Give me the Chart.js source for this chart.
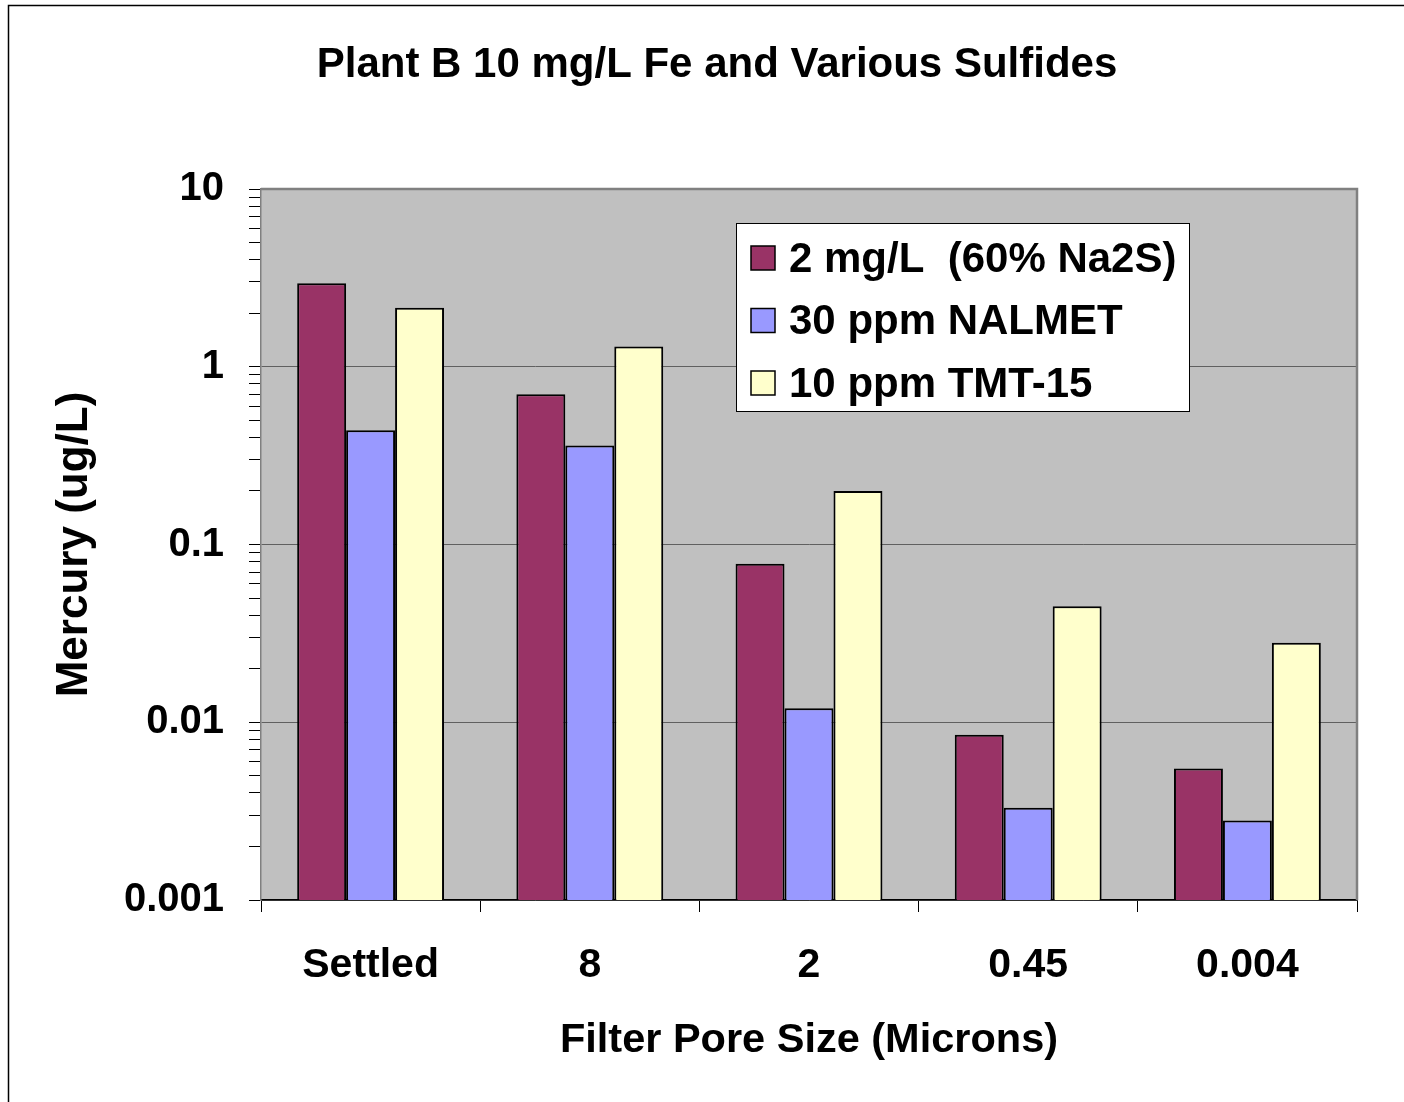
<!DOCTYPE html>
<html>
<head>
<meta charset="utf-8">
<script src="https://cdn.jsdelivr.net/npm/chart.js@4/dist/chart.umd.min.js"></script>
<style>
  html, body { margin: 0; padding: 0; background: #fff; }
  #wrap { width: 1404px; height: 1102px; }
</style>
</head>
<body>
<div id="wrap"><canvas id="myChart" width="1404" height="1102"></canvas></div>
<script>
// values (log axis)
const poreSizes = ["Settled", "8", "2", "0.45", "0.004"];
const na2sValues = [2.95, 0.70, 0.078, 0.0085, 0.0055];
const nalmetValues = [0.44, 0.36, 0.012, 0.0033, 0.0028];
const tmtValues = [2.15, 1.3, 0.20, 0.045, 0.028];
const seriesNames = ["2 mg/L  (60% Na2S)", "30 ppm NALMET", "10 ppm TMT-15"];
const seriesColors = ["#993366", "#9999FF", "#FFFFCC"];
const yDecades = [0.001, 0.01, 0.1, 1, 10];
const chartTitle = "Plant B 10 mg/L Fe and Various Sulfides";

const FONT = "'Liberation Sans', Arial, sans-serif";

function isDecade(v) {
  return yDecades.some((d) => Math.abs(v - d) / d < 1e-6);
}

// gray plot area, outer frame and title (title is centred on the page, not the chart box)
const plotBackground = {
  id: "plotBackground",
  beforeDraw(chart) {
    const { ctx, chartArea: a } = chart;
    ctx.save();
    ctx.strokeStyle = "#000";
    ctx.lineWidth = 1.5;
    ctx.beginPath();
    ctx.moveTo(8.5, 1102);
    ctx.lineTo(8.5, 5.5);
    ctx.lineTo(1404, 5.5);
    ctx.stroke();
    ctx.fillStyle = "#C0C0C0";
    ctx.fillRect(a.left, a.top, a.right - a.left, a.bottom - a.top);
    ctx.fillStyle = "#000";
    ctx.font = "bold 42px " + FONT;
    ctx.textAlign = "center";
    ctx.textBaseline = "middle";
    ctx.fillText(chartTitle, 717, 65);
    ctx.restore();
  },
  afterDatasetsDraw(chart) {
    const { ctx, chartArea: a } = chart;
    ctx.save();
    ctx.strokeStyle = "#808080";
    ctx.lineWidth = 2.5;
    ctx.beginPath();
    ctx.moveTo(a.left, a.top);
    ctx.lineTo(a.right, a.top);
    ctx.lineTo(a.right, a.bottom);
    ctx.stroke();
    ctx.restore();
  },
};

// legend box inside the plot, upper right
const boxLegend = {
  id: "boxLegend",
  afterDraw(chart) {
    const { ctx } = chart;
    const x = 736, y = 223, w = 453, h = 188;
    ctx.save();
    ctx.fillStyle = "#fff";
    ctx.fillRect(x, y, w, h);
    ctx.strokeStyle = "#000";
    ctx.lineWidth = 1;
    ctx.strokeRect(x + 0.5, y + 0.5, w, h);
    ctx.font = "bold 42px " + FONT;
    ctx.textBaseline = "middle";
    chart.data.datasets.forEach((ds, i) => {
      const cy = 258 + i * 62.5;
      ctx.fillStyle = ds.backgroundColor;
      ctx.fillRect(751, cy - 12, 24, 24);
      ctx.lineWidth = 1.5;
      ctx.strokeRect(751, cy - 12, 24, 24);
      ctx.fillStyle = "#000";
      ctx.fillText(ds.label, 789, cy + 2);
    });
    ctx.restore();
  },
};

const chartInstance = new Chart(document.getElementById("myChart"), {
  type: "bar",
  data: {
    labels: poreSizes,
    datasets: [
      { label: seriesNames[0], data: na2sValues, backgroundColor: seriesColors[0] },
      { label: seriesNames[1], data: nalmetValues, backgroundColor: seriesColors[1] },
      { label: seriesNames[2], data: tmtValues, backgroundColor: seriesColors[2] },
    ],
  },
  options: {
    responsive: false,
    animation: false,
    datasets: {
      bar: {
        borderColor: "#000",
        borderWidth: 2,
        barPercentage: 1,
        categoryPercentage: 0.67,
      },
    },
    layout: { padding: { left: 0, right: 47, top: 189, bottom: 0 } },
    plugins: {
      legend: { display: false },
      tooltip: { enabled: false },
      title: { display: false },
    },
    scales: {
      x: {
        offset: true,
        afterFit: (scale) => { scale.height = 202; },
        grid: {
          offset: true,
          drawOnChartArea: false,
          tickColor: "#000",
          tickLength: 12,
        },
        border: { color: "#000", width: 1.5 },
        ticks: {
          color: "#000",
          padding: 29,
          font: { family: FONT, size: 41, weight: "bold" },
        },
        title: {
          display: true,
          text: "Filter Pore Size (Microns)",
          color: "#000",
          font: { family: FONT, size: 41.5, weight: "bold", lineHeight: 1.2 },
          padding: { top: 0, bottom: 37 },
        },
      },
      y: {
        type: "logarithmic",
        min: 0.001,
        max: 10,
        afterFit: (scale) => { scale.width = 261; },
        afterBuildTicks: (scale) => {
          const ticks = [];
          yDecades.forEach((d, i) => {
            if (i === yDecades.length - 1) { ticks.push({ value: d }); return; }
            for (let k = 1; k < 10; k++) ticks.push({ value: d * k });
          });
          scale.ticks = ticks;
        },
        grid: {
          color: (ctx) => (ctx.tick && isDecade(ctx.tick.value) ? "#606060" : "rgba(0,0,0,0)"),
          tickColor: "#000",
          tickLength: 12,
          lineWidth: 1,
        },
        border: { color: "#808080", width: 1.5 },
        ticks: {
          autoSkip: false,
          color: "#000",
          padding: 25,
          font: { family: FONT, size: 40, weight: "bold" },
          callback: (value) => (isDecade(value) ? String(value) : ""),
        },
        title: {
          display: true,
          text: "Mercury (ug/L)",
          color: "#000",
          font: { family: FONT, size: 44, weight: "bold", lineHeight: 1.2 },
          padding: { top: 48, bottom: 0 },
        },
      },
    },
  },
  plugins: [plotBackground, boxLegend],
});
</script>
</body>
</html>
